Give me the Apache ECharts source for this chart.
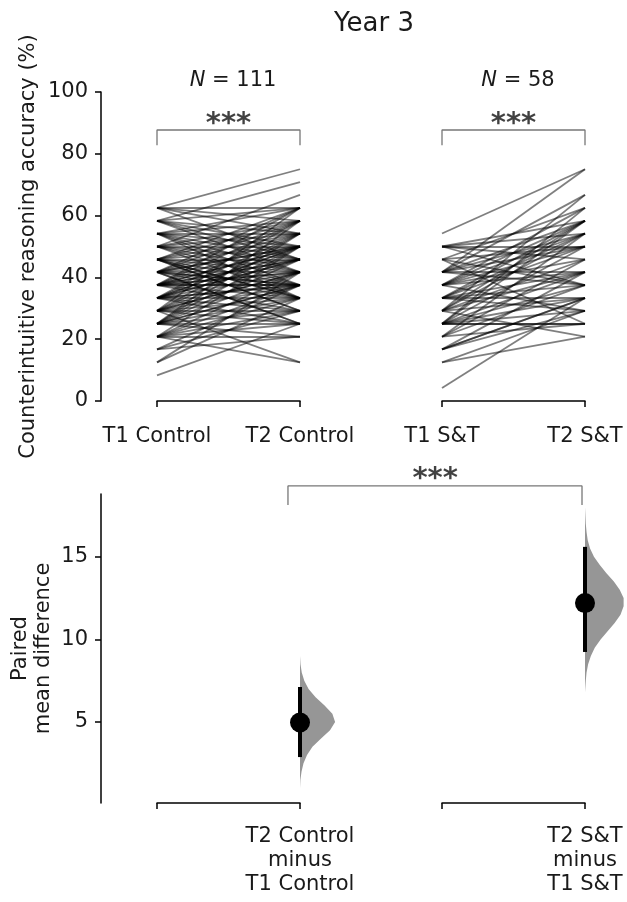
<!DOCTYPE html>
<html><head><meta charset="utf-8">
<script src="https://cdn.jsdelivr.net/npm/echarts@6/dist/echarts.min.js"></script>
<style>html,body{margin:0;padding:0;background:#fff}#c{width:627px;height:902px}</style>
</head><body><div id="c"></div>
<script>
// ---- data (percent correct) ----
const ctrlT1 = [8.3,
  12.5,12.5,
  16.7,16.7,16.7,
  20.8,20.8,20.8,20.8,20.8,20.8,20.8,20.8,
  25,25,25,25,25,25,25,25,25,25,25,
  29.2,29.2,29.2,29.2,29.2,29.2,29.2,29.2,29.2,29.2,29.2,
  33.3,33.3,33.3,33.3,33.3,33.3,33.3,33.3,33.3,33.3,33.3,33.3,
  37.5,37.5,37.5,37.5,37.5,37.5,37.5,37.5,37.5,37.5,37.5,37.5,37.5,
  41.7,41.7,41.7,41.7,41.7,41.7,41.7,41.7,41.7,41.7,41.7,41.7,
  45.8,45.8,45.8,45.8,45.8,45.8,45.8,45.8,45.8,45.8,45.8,
  50,50,50,50,50,50,50,50,
  54.2,54.2,54.2,54.2,54.2,54.2,54.2,54.2,
  58.3,58.3,58.3,58.3,58.3,58.3,
  62.5,62.5,62.5,62.5,62.5];
const ctrlT2 = [25,
  33.3,41.7,
  20.8,37.5,29.2,
  12.5,25,33.3,41.7,29.2,50,37.5,20.8,
  25,33.3,37.5,41.7,50,29.2,45.8,54.2,20.8,37.5,58.3,
  12.5,29.2,37.5,41.7,50,33.3,45.8,54.2,25,62.5,41.7,
  25,33.3,37.5,41.7,45.8,50,54.2,58.3,29.2,37.5,45.8,50,
  29.2,33.3,37.5,41.7,45.8,50,54.2,58.3,62.5,41.7,50,37.5,45.8,
  25,33.3,37.5,41.7,45.8,50,54.2,58.3,62.5,50,25,37.5,
  29.2,33.3,37.5,45.8,50,54.2,58.3,62.5,41.7,29.2,33.3,
  66.7,33.3,41.7,50,54.2,58.3,45.8,37.5,
  37.5,41.7,45.8,50,54.2,62.5,58.3,33.3,
  70.8,41.7,50,54.2,62.5,45.8,
  75,45.8,54.2,58.3,62.5];
const stT1 = [4.2,
  12.5,12.5,
  16.7,16.7,16.7,16.7,
  20.8,20.8,20.8,20.8,
  25,25,25,25,25,25,25,25,25,
  29.2,29.2,29.2,29.2,29.2,29.2,29.2,
  33.3,33.3,33.3,33.3,33.3,33.3,33.3,
  37.5,37.5,37.5,37.5,37.5,37.5,37.5,
  41.7,41.7,41.7,41.7,41.7,41.7,41.7,
  45.8,45.8,45.8,45.8,
  50,50,50,50,50,
  54.2];
const stT2 = [33.3,
  20.8,29.2,
  29.2,41.7,33.3,33.3,
  25,37.5,54.2,45.8,
  25,25,33.3,41.7,50,58.3,37.5,62.5,29.2,
  20.8,45.8,54.2,41.7,66.7,33.3,58.3,
  33.3,50,58.3,37.5,29.2,54.2,41.7,
  29.2,41.7,50,62.5,54.2,45.8,58.3,
  37.5,54.2,75,50,66.7,41.7,58.3,
  25,50,62.5,37.5,
  50,54.2,45.8,37.5,58.3,
  75];
const pairLabels = ['T1 Control', 'T2 Control', 'T1 S&T', 'T2 S&T'];
const groupN = ['111', '58'];
const diffLabels = ['T2 Control\nminus\nT1 Control', 'T2 S&T\nminus\nT1 S&T'];
const topYTicks = [0, 20, 40, 60, 80, 100];
const diffYTicks = [5, 10, 15];
// paired mean difference: [ci low, mean, ci high]
const ctrlDiff = [2.88, 4.97, 7.12];
const stDiff = [9.24, 12.2, 15.6];
// bootstrap distribution outline: value, relative density
const ctrlDistY = [1.0,1.5,2.0,2.5,3.0,3.5,4.0,4.5,5.0,5.5,6.0,6.5,7.0,7.5,8.0,8.5,9.0];
const ctrlDistD = [0,0.01,0.04,0.09,0.18,0.32,0.54,0.77,0.9,0.83,0.63,0.4,0.22,0.11,0.045,0.013,0];
const stDistY = [6.8,7.5,8.0,8.5,9.0,9.5,10.0,10.5,11.0,11.5,12.0,12.5,13.0,13.5,14.0,14.5,15.0,15.5,16.0,16.5,17.0,18.0];
const stDistD = [0,0.02,0.04,0.08,0.15,0.25,0.4,0.58,0.76,0.91,0.99,0.99,0.89,0.74,0.55,0.38,0.23,0.13,0.07,0.04,0.02,0];
const sigText = '***';

// ---- layout / style ----
const FF = 'DejaVu Sans';
const TXT = '#1a1a1a';
const FS = 21;
const AX = {color: '#000', width: 1.5};
const BR = {color: '#777', width: 1.3};
const VW = 39;

const chart = echarts.init(document.getElementById('c'), null, {renderer: 'canvas'});

function xAxisPair(grid, labels, margin) {
  return {
    gridIndex: grid, type: 'value', min: 0, max: 1, interval: 1,
    axisLine: {show: true, onZero: false, lineStyle: AX},
    axisTick: {show: true, length: 6, lineStyle: AX},
    splitLine: {show: false},
    axisLabel: {formatter: v => labels[Math.round(v)], margin: margin, fontSize: FS,
      fontFamily: FF, color: TXT, lineHeight: 24, showMinLabel: true, showMaxLabel: true}
  };
}

function violin(grid, ys, ds) {
  return {
    type: 'custom', xAxisIndex: grid, yAxisIndex: grid, clip: false, silent: true, z: 2,
    data: [[1, 0]],
    renderItem: (params, api) => {
      const pts = [];
      for (let i = 0; i < ys.length; i++) { pts.push(api.coord([1, ys[i]])); }
      const poly = [];
      for (let i = 0; i < pts.length; i++) poly.push([pts[i][0] + ds[i] * VW, pts[i][1]]);
      for (let i = pts.length - 1; i >= 0; i--) poly.push([pts[i][0], pts[i][1]]);
      return {type: 'polygon', shape: {points: poly}, style: {fill: '#969696', stroke: null}};
    }
  };
}
function ciBar(grid, d) {
  return {
    type: 'custom', xAxisIndex: grid, yAxisIndex: grid, clip: false, silent: true, z: 3,
    data: [[1, d[0], d[2]]],
    renderItem: (params, api) => {
      const a = api.coord([api.value(0), api.value(1)]);
      const b = api.coord([api.value(0), api.value(2)]);
      return {type: 'line', shape: {x1: a[0], y1: a[1], x2: b[0], y2: b[1]},
        style: {stroke: '#000', lineWidth: 4}};
    }
  };
}
function meanDot(grid, d) {
  return {type: 'scatter', xAxisIndex: grid, yAxisIndex: grid, clip: false, silent: true, z: 4,
    symbolSize: 20, itemStyle: {color: '#000', opacity: 1}, data: [[1, d[1]]]};
}
function bracket(grid, x0, x1, yTop, yBot) {
  return {type: 'line', xAxisIndex: grid, yAxisIndex: grid, clip: false, silent: true,
    symbol: 'none', lineStyle: BR, data: [[x0, yBot], [x0, yTop], [x1, yTop], [x1, yBot]]};
}
function stars(grid, x, y) {
  return {type: 'scatter', xAxisIndex: grid, yAxisIndex: grid, clip: false, silent: true,
    symbolSize: 1, itemStyle: {color: 'rgba(0,0,0,0)'}, data: [[x, y]],
    label: {show: true, formatter: sigText, position: 'top', distance: 0, offset: [0, 9],
      fontSize: 29, fontWeight: 'bold', fontFamily: FF, color: '#111'}};
}
function pairLines(grid, a, b) {
  return {type: 'lines', coordinateSystem: 'cartesian2d', xAxisIndex: grid, yAxisIndex: grid,
    silent: true, lineStyle: {color: '#000', opacity: 0.5, width: 1.8},
    data: a.map((v, i) => ({coords: [[0, v], [1, b[i]]]}))};
}
const richN = {fontFamily: FF, fontSize: FS, fontWeight: 'normal', color: TXT,
  rich: {i: {fontFamily: FF, fontSize: FS, fontStyle: 'italic', color: TXT}}};

const option = {
  backgroundColor: '#fff',
  animation: false,
  title: [
    {text: 'Year 3', left: 369, top: 6, textAlign: 'center',
      textStyle: {fontFamily: FF, fontSize: 26, fontWeight: 'normal', color: TXT}},
    {text: '{i|N} = ' + groupN[0], left: 228, top: 65, textAlign: 'center', textStyle: richN},
    {text: '{i|N} = ' + groupN[1], left: 513, top: 65, textAlign: 'center', textStyle: richN}
  ],
  grid: [
    {left: 157, width: 143, top: 92, height: 309},
    {left: 442, width: 143, top: 92, height: 309},
    {left: 157, width: 143, top: 494, height: 309},
    {left: 442, width: 143, top: 494, height: 309},
    {left: 157, width: 428, top: 494, height: 309}
  ],
  xAxis: [
    xAxisPair(0, [pairLabels[0], pairLabels[1]], 24),
    xAxisPair(1, [pairLabels[2], pairLabels[3]], 24),
    xAxisPair(2, ['', diffLabels[0]], 22),
    xAxisPair(3, ['', diffLabels[1]], 22),
    {gridIndex: 4, type: 'value', min: 0, max: 3, show: false}
  ],
  yAxis: [
    {gridIndex: 0, type: 'value', min: 0, max: 100, interval: 20, offset: 56,
      axisLine: {show: true, onZero: false, lineStyle: AX},
      axisTick: {show: true, length: 6, lineStyle: AX},
      splitLine: {show: false},
      axisLabel: {fontSize: FS, fontFamily: FF, color: TXT, margin: 13,
        customValues: topYTicks},
      name: 'Counterintuitive reasoning accuracy (%)', nameLocation: 'middle', nameGap: 62,
      nameTextStyle: {fontSize: FS, fontFamily: FF, color: TXT}},
    {gridIndex: 1, type: 'value', min: 0, max: 100, show: false},
    {gridIndex: 2, type: 'value', min: 0.1, max: 18.8, offset: 56,
      axisLine: {show: true, onZero: false, lineStyle: AX},
      axisTick: {show: true, length: 6, lineStyle: AX, customValues: diffYTicks},
      splitLine: {show: false},
      axisLabel: {fontSize: FS, fontFamily: FF, color: TXT, margin: 13, customValues: diffYTicks},
      name: 'Paired\nmean difference', nameLocation: 'middle', nameGap: 46,
      nameTextStyle: {fontSize: FS, fontFamily: FF, color: TXT, lineHeight: 23}},
    {gridIndex: 3, type: 'value', min: 0.1, max: 18.8, show: false},
    {gridIndex: 4, type: 'value', min: 0.1, max: 18.8, show: false}
  ],
  series: [
    pairLines(0, ctrlT1, ctrlT2),
    pairLines(1, stT1, stT2),
    bracket(0, 0, 1, 87.7, 82.8), stars(0, 0.5, 87.7),
    bracket(1, 0, 1, 87.7, 82.8), stars(1, 0.5, 87.7),
    violin(2, ctrlDistY, ctrlDistD), ciBar(2, ctrlDiff), meanDot(2, ctrlDiff),
    violin(3, stDistY, stDistD), ciBar(3, stDiff), meanDot(3, stDiff),
    bracket(4, 0.918, 2.979, 19.29, 18.14), stars(4, 1.95, 19.29)
  ]
};
chart.setOption(option);
</script></body></html>
